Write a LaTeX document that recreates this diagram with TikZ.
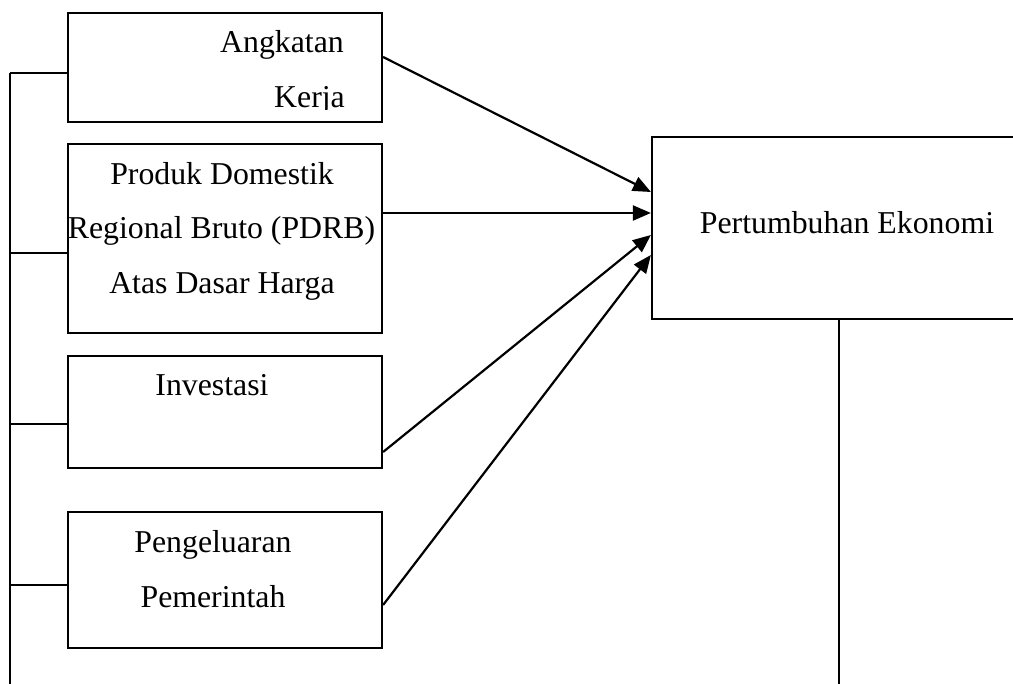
\documentclass[tikz,border=0pt]{standalone}
\usepackage{fontspec}
\setmainfont{Liberation Serif}
\usetikzlibrary{arrows.meta}
\begin{document}
\begin{tikzpicture}[x=1pt,y=-1pt,
  box/.style={draw,line width=2.2pt,minimum width=314pt,inner sep=0pt},
  lbl/.style={anchor=base,inner sep=0pt,font=\fontsize{31.8}{38}\selectfont},
  arr/.style={line width=2.2pt,-{Triangle[length=18pt,width=15pt]}},
  ln/.style={line width=2.2pt}]
\useasboundingbox (0,0) rectangle (1013,684);
% boxes
\node[box,minimum height=109pt] (k1) at (225,67.5) {};
\node[box,minimum height=189pt] (k2) at (225,238.5) {};
\node[box,minimum height=112pt] (k3) at (225,412) {};
\node[box,minimum height=136pt] (k4) at (225,580) {};
\node[box,minimum width=378pt,minimum height=182pt] (t) at (841,228) {};
% texts
\node[lbl] (a1) at (282,53) {Angkatan};
\begin{scope}
\clip (60,0) rectangle (400,110);
\node[lbl,anchor=base east] (a2) at (345,108) {Kerja};
\end{scope}
\node[lbl] (b1) at (222,185) {Produk Domestik};
\node[lbl] (b2) at (221.5,239) {Regional Bruto (PDRB)};
\node[lbl] (b3) at (222,294) {Atas Dasar Harga};
\node[lbl] (c1) at (212,396) {Investasi};
\node[lbl] (d1) at (213,553) {Pengeluaran};
\node[lbl] (d2) at (213,607) {Pemerintah};
\node[lbl] (e1) at (847,234) {Pertumbuhan Ekonomi};
% arrows
\draw[arr] ([yshift=10.5pt]k1.east) -- ([yshift=36pt]t.west);
\draw[arr] ([yshift=25.5pt]k2.east) -- ([yshift=15pt]t.west);
\draw[arr] ([yshift=-40pt]k3.east) -- ([yshift=-7pt]t.west);
\draw[arr] ([yshift=-25pt]k4.east) -- ([yshift=-27pt]t.west);
% left bus
\coordinate (bustop) at (10,73);
\coordinate (busbot) at (10,684);
\draw[ln] (bustop) -- (busbot);
\draw[ln] (bustop) -- ([yshift=-5.5pt]k1.west);
\draw[ln] (10,253) coordinate (j2) -- ([yshift=-14.5pt]k2.west);
\draw[ln] (10,424) coordinate (j3) -- ([yshift=-12pt]k3.west);
\draw[ln] (10,585) coordinate (j4) -- ([yshift=-5pt]k4.west);
% right drop
\coordinate (tb) at (839,684);
\draw[ln] (t.south -| tb) -- (tb);
\end{tikzpicture}
\end{document}
